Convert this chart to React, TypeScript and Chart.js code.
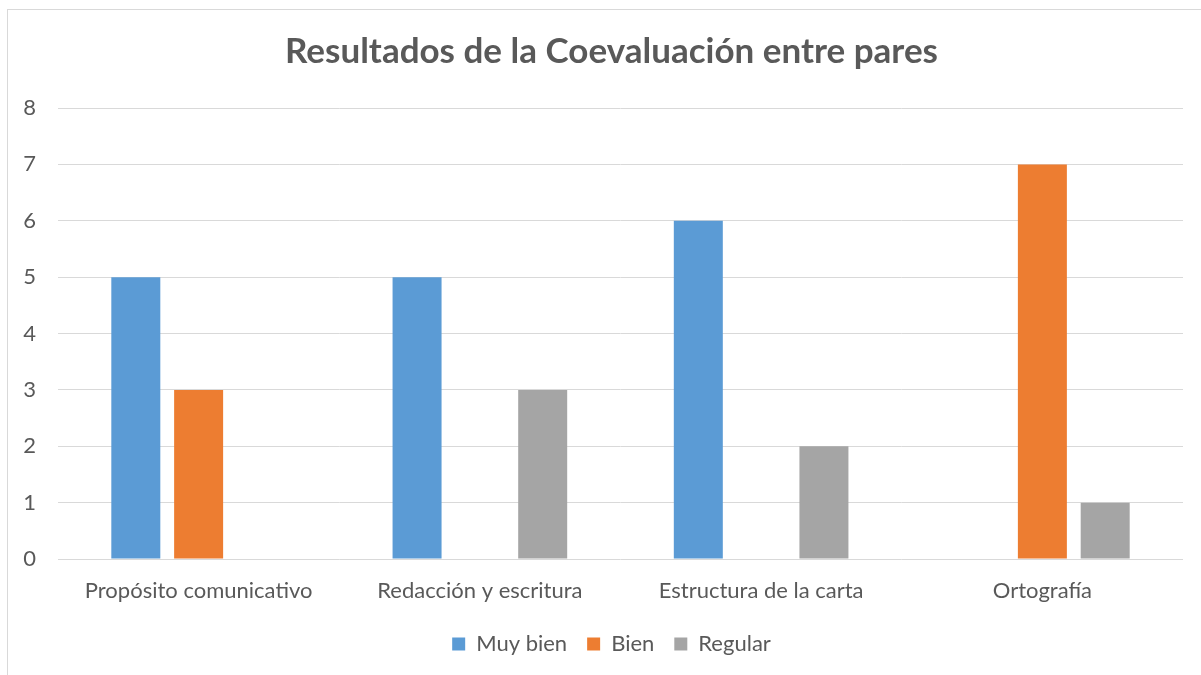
import React, { useEffect, useRef } from "react";
import { Chart, registerables } from "chart.js";

Chart.register(...registerables);

const categories = ["Propósito comunicativo", "Redacción y escritura", "Estructura de la carta", "Ortografía"];
const muyBien = [5, 5, 6, 0];
const bien = [3, 0, 0, 7];
const regular = [0, 3, 2, 1];
const seriesNames = ["Muy bien", "Bien", "Regular"];
const titleText = "Resultados de la Coevaluación entre pares";

const FONT = "Lato, 'Open Sans', sans-serif";
const TEXT = "#595959";

export default function App() {
  const ref = useRef<HTMLCanvasElement | null>(null);
  useEffect(() => {
    if (!ref.current) return;
    const chart = new Chart(ref.current, {
      type: "bar",
      data: {
        labels: categories,
        datasets: [
          { label: seriesNames[0], data: muyBien, backgroundColor: "#5B9BD5" },
          { label: seriesNames[1], data: bien, backgroundColor: "#ED7D31" },
          { label: seriesNames[2], data: regular, backgroundColor: "#A5A5A5" },
        ],
      },
      options: {
        animation: false,
        responsive: false,
        maintainAspectRatio: false,
        layout: { padding: { left: 22, right: 0, top: 0, bottom: 10 } },
        datasets: { bar: { categoryPercentage: 0.67, barPercentage: 0.78 } },
        plugins: {
          tooltip: { enabled: false },
          title: {
            display: true,
            text: titleText,
            color: TEXT,
            font: { family: FONT, size: 35, weight: "bold" },
            padding: { top: 31, bottom: 35 },
          },
          legend: {
            position: "bottom",
            labels: {
              color: TEXT,
              font: { family: FONT, size: 22 },
              boxWidth: 13,
              boxHeight: 13,
              padding: 20,
            },
          },
        },
        scales: {
          x: {
            grid: { display: false },
            border: { display: false },
            ticks: { color: TEXT, font: { family: FONT, size: 22 }, padding: 11, maxRotation: 0 },
            afterFit: (s: any) => { s.height = 54; },
          },
          y: {
            min: 0,
            max: 8,
            grid: { color: "#D9D9D9", lineWidth: 1, drawTicks: false },
            border: { display: false },
            ticks: { stepSize: 1, color: TEXT, font: { family: FONT, size: 22 }, padding: 22 },
            afterFit: (s: any) => { s.width = 36; },
          },
          y2: {
            position: "right",
            display: true,
            grid: { display: false },
            border: { display: false },
            ticks: { display: false },
            afterFit: (s: any) => { s.width = 18; },
          },
        },
      },
    });
    return () => chart.destroy();
  }, []);
  return (
    <div style={{ position: "fixed", left: 0, top: 0, width: 1201, height: 675, background: "#fff", overflow: "hidden" }}>
      <div style={{ position: "absolute", left: 7, top: 9, width: 1300, height: 800, border: "1px solid #D9D9D9" }} />
      <canvas ref={ref} width={1201} height={675} style={{ position: "absolute", left: 0, top: 0 }} />
    </div>
  );
}
